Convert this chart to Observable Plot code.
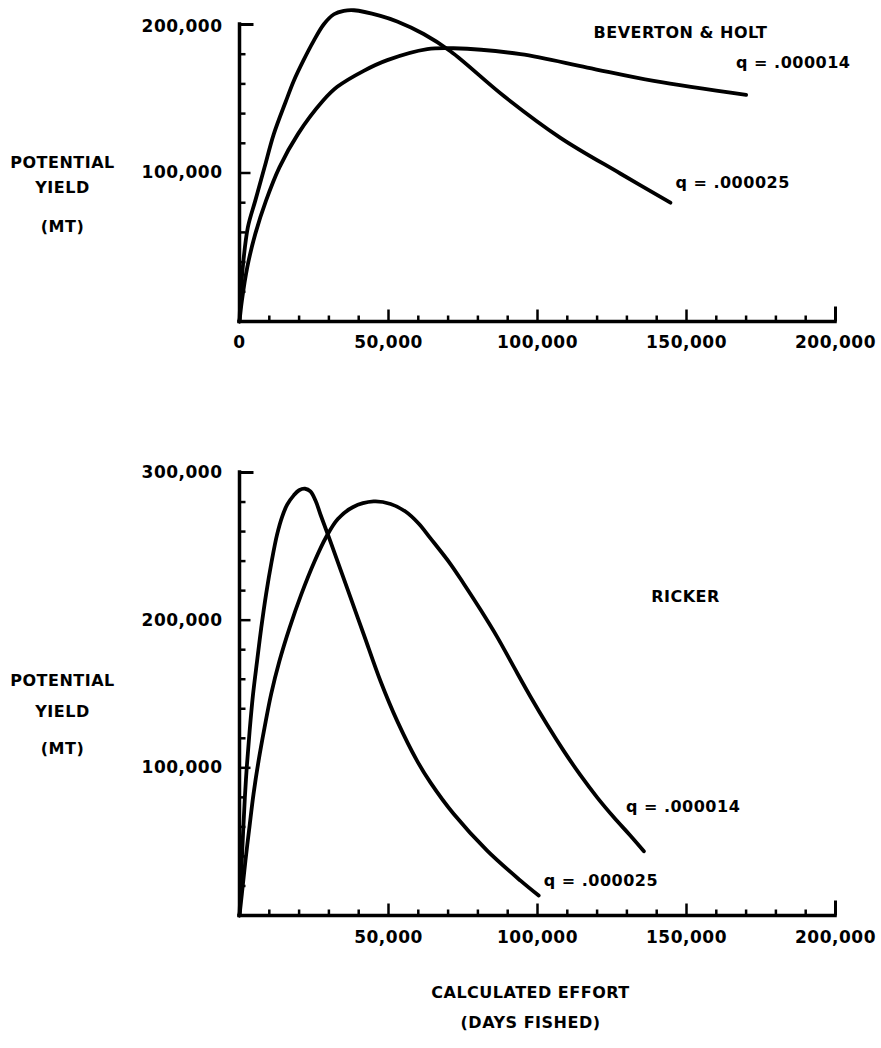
<!DOCTYPE html>
<html><head><meta charset="utf-8">
<script src="https://cdn.jsdelivr.net/npm/d3@7"></script>
<script src="https://cdn.jsdelivr.net/npm/@observablehq/plot@0.6"></script>
<style>
html,body{margin:0;padding:0;background:#fff;}
#chart svg{display:block;}
#chart text{letter-spacing:0.5px;}
</style></head><body><div id="chart"></div>
<script>
// ---- Beverton & Holt (top panel) ----
const bhEffort25 = [0,300,1100,2800,5300,8400,11500,15500,18200,21500,24900,28300,31700,35000,38400,47300,52900,61800,70800,88600,107700,127900,144600];
const bhYield25  = [0,14000,36500,63400,81400,103800,126200,148000,162000,176000,189000,200200,206900,209200,209600,205800,202000,193600,182000,152000,123700,99500,80000];
const bhEffort14 = [0,800,2600,5300,8900,13400,19600,28000,32800,41700,49600,63000,71800,94300,116700,139000,170000];
const bhYield14  = [0,14000,36500,59000,81400,103800,126200,148600,158000,168800,176000,183400,184000,180000,171000,162000,152600];

// ---- Ricker (bottom panel) ----
const rkEffort25 = [0,600,1200,1800,2500,3400,4500,5900,7300,8900,10800,12600,14300,16000,18200,20000,22000,23800,25500,27200,30500,36100,41700,47300,52900,59600,64100,71900,83100,94300,100400];
const rkYield25  = [0,30000,56000,80000,102000,125000,149000,172300,194800,217300,239900,257900,270000,278200,284500,288000,289000,287200,281000,271400,253400,221800,190300,158800,131800,104700,90000,68700,43900,23600,13500];
const rkEffort14 = [0,800,2000,3400,4700,6400,8400,10600,13400,16800,20700,25200,29000,33000,38000,45000,50700,55700,60100,64100,70800,75300,80900,86500,92000,97700,103300,108800,114400,120000,125600,131200,135700];
const rkYield14  = [0,14700,37200,61000,82200,104700,127200,149800,172300,194800,217300,239900,256000,268500,276500,280400,278700,273600,265500,255400,238000,224500,207000,188500,168500,148000,129000,111500,95000,80000,66500,54000,43500];

// ---- ticks & labels ----
const xMinorTicks = d3.range(10000, 200000, 10000).filter(v => v % 50000 !== 0);
const xMajorTicks = [50000, 100000, 150000];
const xEndTick = [200000];
const topXTickValues = [0, 50000, 100000, 150000, 200000];
const topXTickLabels = ["0", "50,000", "100,000", "150,000", "200,000"];
const botXTickValues = [50000, 100000, 150000, 200000];
const botXTickLabels = ["50,000", "100,000", "150,000", "200,000"];
const topYMinor = [20000, 40000, 60000, 80000, 120000, 140000, 160000, 180000];
const botYMinor = [20000,40000,60000,80000,120000,140000,160000,180000,220000,240000,260000,280000];
const yTitleLines = ["POTENTIAL", "YIELD", "(MT)"];
const xTitleLines = ["CALCULATED EFFORT", "(DAYS FISHED)"];

const rows = (xs, ys) => xs.map((x, i) => ({x, y: ys[i]}));
const FONT = "DejaVu Sans";
const hTick = len => ({draw(ctx){ ctx.moveTo(0, 0); ctx.lineTo(len, 0); }});
const vTick = len => ({draw(ctx){ ctx.moveTo(0, 0); ctx.lineTo(0, -len); }});
const txt = {fontFamily: FONT, fontWeight: "bold", fill: "black"};

function axesMarks(yMax, yMinor, yMajorVals, yMajorLabels, xLabelVals, xLabelText, xLabelDy) {
  return [
    Plot.ruleX([0], {y1: 0, y2: yMax, stroke: "black", strokeWidth: 3.5, strokeLinecap: "square"}),
    Plot.ruleY([0], {x1: 0, x2: 200000, stroke: "black", strokeWidth: 3.5, strokeLinecap: "square"}),
    Plot.dot(yMinor, {x: 0, y: d => d, symbol: hTick(6), stroke: "black", fill: "none", strokeWidth: 2.5}),
    Plot.dot(yMajorVals, {x: 0, y: d => d, symbol: hTick(11), stroke: "black", fill: "none", strokeWidth: 2.5}),
    Plot.dot([yMax], {x: 0, y: d => d, symbol: hTick(14), stroke: "black", fill: "none", strokeWidth: 3}),
    Plot.dot(xMinorTicks, {x: d => d, y: 0, symbol: vTick(6), stroke: "black", fill: "none", strokeWidth: 2.5}),
    Plot.dot(xMajorTicks, {x: d => d, y: 0, symbol: vTick(12), stroke: "black", fill: "none", strokeWidth: 2.5}),
    Plot.dot(xEndTick, {x: d => d, y: 0, symbol: vTick(15), stroke: "black", fill: "none", strokeWidth: 3}),
    Plot.text(yMajorVals, {x: 0, y: d => d, text: (d, i) => yMajorLabels[i], dx: -17, textAnchor: "end", fontSize: 17, ...txt}),
    Plot.text(xLabelVals, {x: d => d, y: 0, text: (d, i) => xLabelText[i], dy: xLabelDy, fontSize: 17, ...txt})
  ];
}

function yTitle(dys) {
  return yTitleLines.map((t, i) => Plot.text([t], {frameAnchor: "left", dx: -177, dy: dys[i], textAnchor: "middle", fontSize: 16, ...txt}));
}

const curveOpts = {x: "x", y: "y", curve: "catmull-rom", stroke: "black", strokeWidth: 3.8, strokeLinecap: "round", strokeLinejoin: "round"};

const topChart = Plot.plot({
  width: 881, height: 361,
  marginTop: 24, marginBottom: 40, marginLeft: 239, marginRight: 46,
  x: {domain: [0, 200000], axis: null},
  y: {domain: [0, 200000], axis: null},
  marks: [
    ...axesMarks(200000, topYMinor, [100000], ["100,000"], topXTickValues, topXTickLabels, 21),
    Plot.text(["200,000"], {x: 0, y: 200000, dx: -17, dy: 2, textAnchor: "end", fontSize: 17, ...txt}),
    Plot.line(rows(bhEffort25, bhYield25), curveOpts),
    Plot.line(rows(bhEffort14, bhYield14), curveOpts),
    Plot.text(["BEVERTON & HOLT"], {frameAnchor: "top", dx: 143, dy: 2, fontSize: 16, ...txt}),
    Plot.text(["q = .000014"], {x: bhEffort14.at(-1), y: bhYield14.at(-1), dx: -10, dy: -32, textAnchor: "start", fontSize: 16, ...txt}),
    Plot.text(["q = .000025"], {x: bhEffort25.at(-1), y: bhYield25.at(-1), dx: 5, dy: -20, textAnchor: "start", fontSize: 16, ...txt}),
    ...yTitle([-10, 15, 54])
  ]
});

const bottomChart = Plot.plot({
  width: 881, height: 687,
  marginTop: 111, marginBottom: 133, marginLeft: 239, marginRight: 46,
  x: {domain: [0, 200000], axis: null},
  y: {domain: [0, 300000], axis: null},
  marks: [
    ...axesMarks(300000, botYMinor, [200000, 100000], ["200,000", "100,000"], botXTickValues, botXTickLabels, 22),
    Plot.text(["300,000"], {x: 0, y: 300000, dx: -17, textAnchor: "end", fontSize: 17, ...txt}),
    Plot.line(rows(rkEffort25, rkYield25), curveOpts),
    Plot.line(rows(rkEffort14, rkYield14), curveOpts),
    Plot.text(["RICKER"], {frameAnchor: "top", dx: 148, dy: 118, fontSize: 16, ...txt}),
    Plot.text(["q = .000014"], {x: rkEffort14.at(-1), y: rkYield14.at(-1), dx: -18, dy: -44, textAnchor: "start", fontSize: 16, ...txt}),
    Plot.text(["q = .000025"], {x: rkEffort25.at(-1), y: rkYield25.at(-1), dx: 5, dy: -15, textAnchor: "start", fontSize: 16, ...txt}),
    ...yTitle([-13.5, 17.5, 54.5]),
    ...xTitleLines.map((t, i) => Plot.text([t], {frameAnchor: "bottom", dx: -7, dy: [82, 112][i], fontSize: 16, ...txt}))
  ]
});

document.getElementById("chart").append(topChart, bottomChart);
</script></body></html>
